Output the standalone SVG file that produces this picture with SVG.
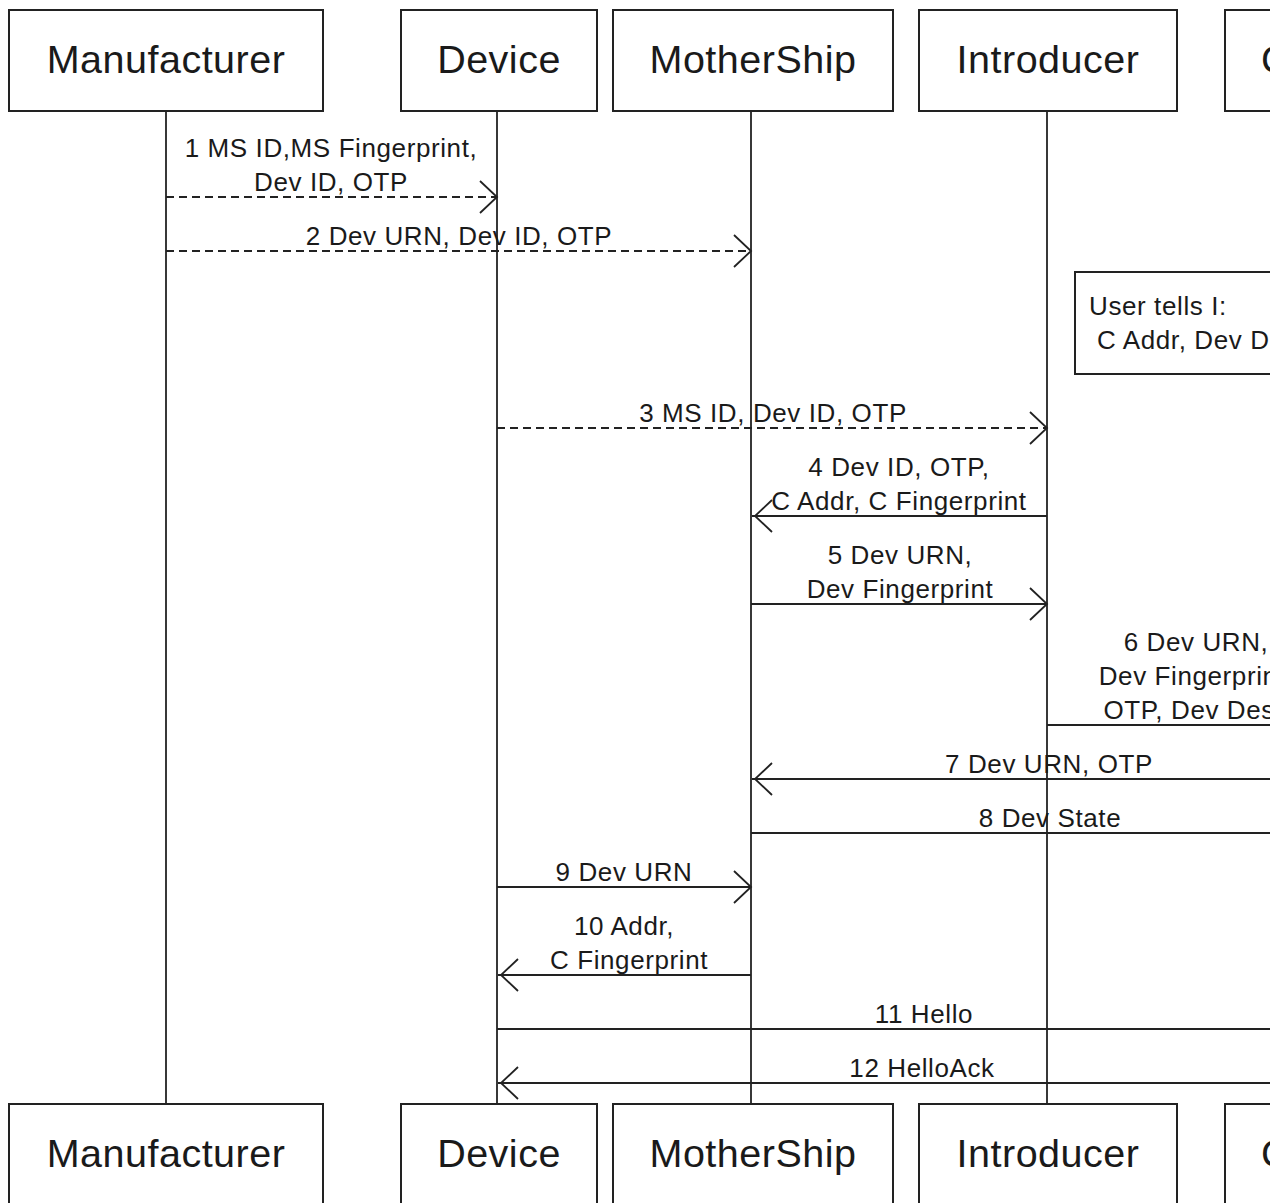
<svg xmlns="http://www.w3.org/2000/svg" width="1282" height="1203" viewBox="0 0 1282 1203">
  <style>
    .box { fill: #ffffff; stroke: #222222; stroke-width: 2; }
    .life { stroke: #222222; stroke-width: 1.8; fill: none; }
    .msg { stroke: #222222; stroke-width: 1.8; fill: none; }
    .dash { stroke-dasharray: 8 5; }
    .head { stroke: #222222; stroke-width: 1.8; fill: none; }
    .pname { font-family: "Liberation Sans", Arial, sans-serif; font-size: 39.5px; letter-spacing: 0.5px; fill: #1a1a1a; text-anchor: middle; }
    .lbl { font-family: "Liberation Sans", Arial, sans-serif; font-size: 26px; letter-spacing: 0.6px; fill: #1a1a1a; text-anchor: middle; }
    .note { font-family: "Liberation Sans", Arial, sans-serif; font-size: 26px; letter-spacing: 0.6px; fill: #1a1a1a; }
  </style>
  <defs>
    <clipPath id="view">
      <rect x="0" y="0" width="1270" height="1203"/>
    </clipPath>
  </defs>
  <rect x="0" y="0" width="1282" height="1203" fill="#ffffff"/>

  <g clip-path="url(#view)">
    <!-- lifelines -->
    <g id="lifelines">
      <line class="life" x1="166" y1="111" x2="166" y2="1104"/>
      <line class="life" x1="497" y1="111" x2="497" y2="1104"/>
      <line class="life" x1="751" y1="111" x2="751" y2="1104"/>
      <line class="life" x1="1047" y1="111" x2="1047" y2="1104"/>
      <line class="life" x1="1347" y1="111" x2="1347" y2="1104"/>
    </g>

    <!-- participants, top and bottom -->
    <g id="manufacturer">
      <rect class="box" x="9" y="10" width="314" height="101"/>
      <text class="pname" x="166" y="73">Manufacturer</text>
      <rect class="box" x="9" y="1104" width="314" height="101"/>
      <text class="pname" x="166" y="1167">Manufacturer</text>
    </g>
    <g id="device">
      <rect class="box" x="401" y="10" width="196" height="101"/>
      <text class="pname" x="499" y="73">Device</text>
      <rect class="box" x="401" y="1104" width="196" height="101"/>
      <text class="pname" x="499" y="1167">Device</text>
    </g>
    <g id="mothership">
      <rect class="box" x="613" y="10" width="280" height="101"/>
      <text class="pname" x="753" y="73">MotherShip</text>
      <rect class="box" x="613" y="1104" width="280" height="101"/>
      <text class="pname" x="753" y="1167">MotherShip</text>
    </g>
    <g id="introducer">
      <rect class="box" x="919" y="10" width="258" height="101"/>
      <text class="pname" x="1048" y="73">Introducer</text>
      <rect class="box" x="919" y="1104" width="258" height="101"/>
      <text class="pname" x="1048" y="1167">Introducer</text>
    </g>
    <g id="controller">
      <rect class="box" x="1225" y="10" width="244" height="101"/>
      <text class="pname" x="1261" y="73" style="text-anchor:start">Controller</text>
      <rect class="box" x="1225" y="1104" width="244" height="101"/>
      <text class="pname" x="1261" y="1167" style="text-anchor:start">Controller</text>
    </g>

    <!-- note on the introducer -->
    <g id="note">
      <rect class="box" x="1075" y="272" width="260" height="102"/>
      <text class="note" x="1089" y="315">User tells I:</text>
      <text class="note" x="1097" y="349">C Addr, Dev Desc</text>
    </g>

    <!-- messages -->
    <g id="connectors">
      <!-- 1 -->
      <line class="msg dash" x1="166" y1="197" x2="496" y2="197"/>
      <polyline class="head" points="480,181 497,197 480,213"/>
      <text class="lbl" x="331" y="157">1 MS ID,MS Fingerprint,</text>
      <text class="lbl" x="331" y="191">Dev ID, OTP</text>
      <!-- 2 -->
      <line class="msg dash" x1="166" y1="251" x2="750" y2="251"/>
      <polyline class="head" points="734,235 751,251 734,267"/>
      <text class="lbl" x="459" y="245">2 Dev URN, Dev ID, OTP</text>
      <!-- 3 -->
      <line class="msg dash" x1="497" y1="428" x2="1046" y2="428"/>
      <polyline class="head" points="1030,412 1047,428 1030,444"/>
      <text class="lbl" x="773" y="422">3 MS ID, Dev ID, OTP</text>
      <!-- 4 -->
      <line class="msg" x1="1047" y1="516" x2="752" y2="516"/>
      <polyline class="head" points="772,500 755,516 772,532"/>
      <text class="lbl" x="899" y="476">4 Dev ID, OTP,</text>
      <text class="lbl" x="899" y="510">C Addr, C Fingerprint</text>
      <!-- 5 -->
      <line class="msg" x1="751" y1="604" x2="1046" y2="604"/>
      <polyline class="head" points="1030,588 1047,604 1030,620"/>
      <text class="lbl" x="900" y="564">5 Dev URN,</text>
      <text class="lbl" x="900" y="598">Dev Fingerprint</text>
      <!-- 6 -->
      <line class="msg" x1="1047" y1="725" x2="1346" y2="725"/>
      <polyline class="head" points="1330,709 1347,725 1330,741"/>
      <text class="lbl" x="1196" y="651">6 Dev URN,</text>
      <text class="lbl" x="1196" y="685">Dev Fingerprint,</text>
      <text class="lbl" x="1196" y="719">OTP, Dev Desc</text>
      <!-- 7 -->
      <line class="msg" x1="1347" y1="779" x2="752" y2="779"/>
      <polyline class="head" points="772,763 755,779 772,795"/>
      <text class="lbl" x="1049" y="773">7 Dev URN, OTP</text>
      <!-- 8 -->
      <line class="msg" x1="751" y1="833" x2="1346" y2="833"/>
      <polyline class="head" points="1330,817 1347,833 1330,849"/>
      <text class="lbl" x="1050" y="827">8 Dev State</text>
      <!-- 9 -->
      <line class="msg" x1="497" y1="887" x2="750" y2="887"/>
      <polyline class="head" points="734,871 751,887 734,903"/>
      <text class="lbl" x="624" y="881">9 Dev URN</text>
      <!-- 10 -->
      <line class="msg" x1="751" y1="975" x2="498" y2="975"/>
      <polyline class="head" points="518,959 501,975 518,991"/>
      <text class="lbl" x="624" y="935">10 Addr,</text>
      <text class="lbl" x="629" y="969">C Fingerprint</text>
      <!-- 11 -->
      <line class="msg" x1="497" y1="1029" x2="1346" y2="1029"/>
      <polyline class="head" points="1330,1013 1347,1029 1330,1045"/>
      <text class="lbl" x="924" y="1023">11 Hello</text>
      <!-- 12 -->
      <line class="msg" x1="1347" y1="1083" x2="498" y2="1083"/>
      <polyline class="head" points="518,1067 501,1083 518,1099"/>
      <text class="lbl" x="922" y="1077">12 HelloAck</text>
    </g>
  </g>
</svg>
